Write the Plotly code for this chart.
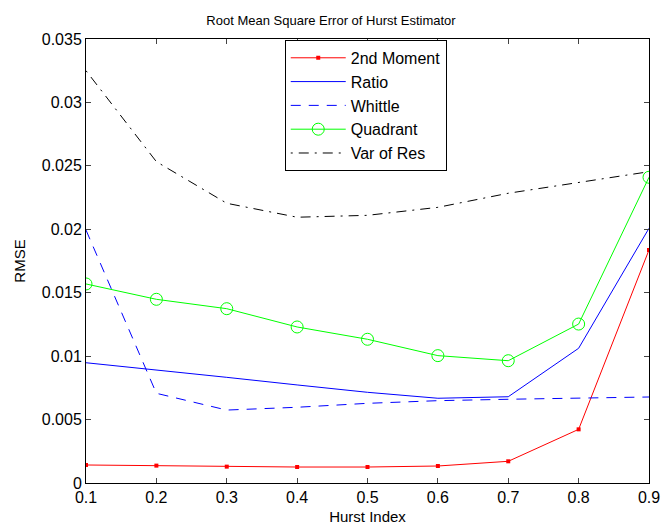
import plotly.graph_objects as go

hurst = [0.1, 0.2, 0.3, 0.4, 0.5, 0.6, 0.7, 0.8, 0.9]
second_moment = [0.00142, 0.00137, 0.00129, 0.00126, 0.00126, 0.00134, 0.00171, 0.00423, 0.01837]
ratio = [0.00948, 0.00893, 0.00833, 0.00773, 0.00715, 0.00668, 0.00680, 0.01062, 0.02008]
whittle = [0.01994, 0.00707, 0.00575, 0.00597, 0.00628, 0.00649, 0.00660, 0.00670, 0.00678]
quadrant = [0.01569, 0.01448, 0.01374, 0.01230, 0.01133, 0.01004, 0.00964, 0.01253, 0.02410]
var_of_res = [0.03250, 0.02533, 0.02205, 0.02095, 0.02110, 0.02173, 0.02284, 0.02370, 0.02454]

x_ticks = [0.1, 0.2, 0.3, 0.4, 0.5, 0.6, 0.7, 0.8, 0.9]
y_ticks = [0, 0.005, 0.01, 0.015, 0.02, 0.025, 0.03, 0.035]
y_tick_labels = ["0", "0.005", "0.01", "0.015", "0.02", "0.025", "0.03", "0.035"]

FONT = "Liberation Sans, Arial, Helvetica, sans-serif"

fig = go.Figure()
fig.add_trace(go.Scatter(x=hurst, y=second_moment, name="2nd Moment", mode="lines+markers",
                         line=dict(color="#ff0000", width=1), marker=dict(color="#ff0000", size=4, symbol="square")))
fig.add_trace(go.Scatter(x=hurst, y=ratio, name="Ratio", mode="lines",
                         line=dict(color="#0000ff", width=1)))
fig.add_trace(go.Scatter(x=hurst, y=whittle, name="Whittle", mode="lines",
                         line=dict(color="#0000ff", width=1, dash="10px,8px")))
fig.add_trace(go.Scatter(x=hurst, y=quadrant, name="Quadrant", mode="lines+markers",
                         line=dict(color="#00ff00", width=1),
                         marker=dict(symbol="circle-open", size=12, color="#00ff00", line=dict(width=1, color="#00ff00"))))
fig.add_trace(go.Scatter(x=hurst, y=var_of_res, name="Var of Res", mode="lines",
                         line=dict(color="#000000", width=1, dash="2px,6px,10px,6px")))

fig.update_layout(
    width=662, height=527,
    margin=dict(l=86, r=13, t=39, b=44, autoexpand=False),
    paper_bgcolor="white", plot_bgcolor="white",
    font=dict(family=FONT, size=16, color="black"),
    title=dict(text="Root Mean Square Error of Hurst Estimator", x=0.5, xanchor="center",
               y=1 - 20 / 527, yanchor="middle", font=dict(size=13, family=FONT)),
    showlegend=True,
    legend=dict(x=0.353, y=0.998, xanchor="left", yanchor="top", bordercolor="black", borderwidth=1,
                bgcolor="white", font=dict(size=16, family=FONT), tracegroupgap=0, itemwidth=55),
)
fig.update_xaxes(range=[0.1, 0.9], tickvals=x_ticks, ticktext=[str(t) for t in x_ticks],
                 ticks="inside", ticklen=5, tickcolor="#444", showline=True, linecolor="black", linewidth=1,
                 mirror="ticks", showgrid=False, zeroline=False, automargin=False,
                 title=dict(text="Hurst Index", font=dict(size=15), standoff=6),
                 tickfont=dict(size=16))
fig.update_yaxes(range=[0, 0.035], tickvals=y_ticks, ticktext=y_tick_labels,
                 ticks="inside", ticklen=5, tickcolor="#444", showline=True, linecolor="black", linewidth=1,
                 mirror="ticks", showgrid=False, zeroline=False, automargin=False,
                 title=dict(text="RMSE", font=dict(size=15), standoff=12),
                 tickfont=dict(size=16))

fig.write_html("out.html")
